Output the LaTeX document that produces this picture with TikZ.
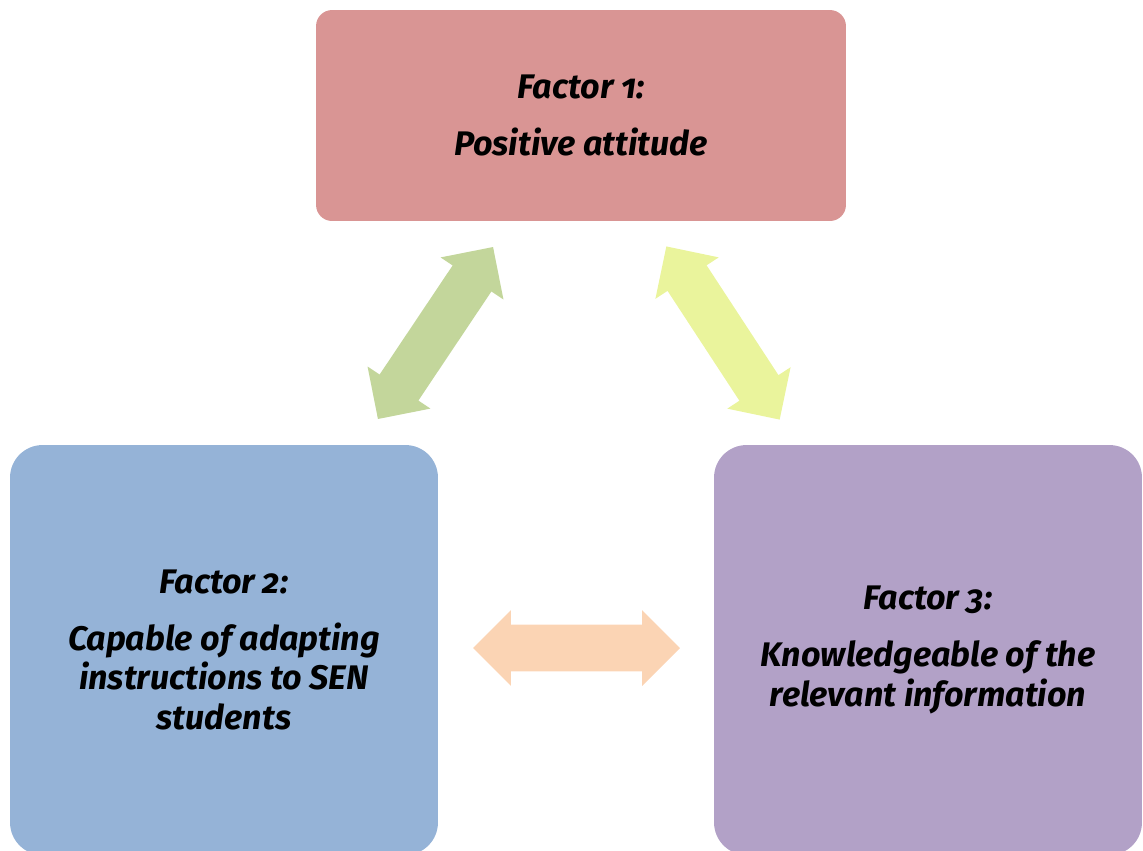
\documentclass[tikz,border=0pt]{standalone}
\usepackage{fontspec}
\setmainfont[Numbers=OldStyle]{Fira Sans}
\usetikzlibrary{shapes.arrows}

\definecolor{factorred}{HTML}{D99594}
\definecolor{factorblue}{HTML}{95B3D7}
\definecolor{factorpurple}{HTML}{B2A1C7}
\definecolor{linkgreen}{HTML}{C3D69B}
\definecolor{linkyellow}{HTML}{EAF49C}
\definecolor{linkorange}{HTML}{FBD4B4}

\tikzset{
  factor/.style={rectangle, draw=none, align=center, inner sep=0pt,
    font=\fontsize{19.4}{22.7}\selectfont\bfseries\itshape},
  link/.style={double arrow, draw=none, inner sep=0.46cm, minimum height=4.14cm,
    double arrow head extend=0.29cm}
}

\begin{document}
\begin{tikzpicture}[x=0.02cm, y=-0.02cm]

  \useasboundingbox (0,0) rectangle (1143,850);

  % Define nodes
  \node[factor, fill=factorred, rounded corners=0.32cm,
        minimum width=10.6cm, minimum height=4.22cm] (f1) at (581,115.5)
        {Factor 1:\\[0.34cm] Positive attitude};
  \node[factor, fill=factorblue, rounded corners=0.65cm,
        minimum width=8.56cm, minimum height=8.2cm] (f2) at (224,650)
        {Factor 2:\\[0.34cm] Capable of adapting\\ instructions to SEN\\ students};
  \node[factor, fill=factorpurple, rounded corners=0.65cm,
        minimum width=8.56cm, minimum height=8.2cm] (f3) at (928,650)
        {Factor 3:\\[0.34cm] Knowledgeable of the\\ relevant information};

  % Connect the nodes
  \node[link, fill=linkgreen, rotate=56.2]   (a12) at (435.5,333) {};
  \node[link, fill=linkyellow, rotate=-56.8] (a13) at (723,333) {};
  \node[link, fill=linkorange]               (a23) at (576.5,648) {};

\end{tikzpicture}
\end{document}
